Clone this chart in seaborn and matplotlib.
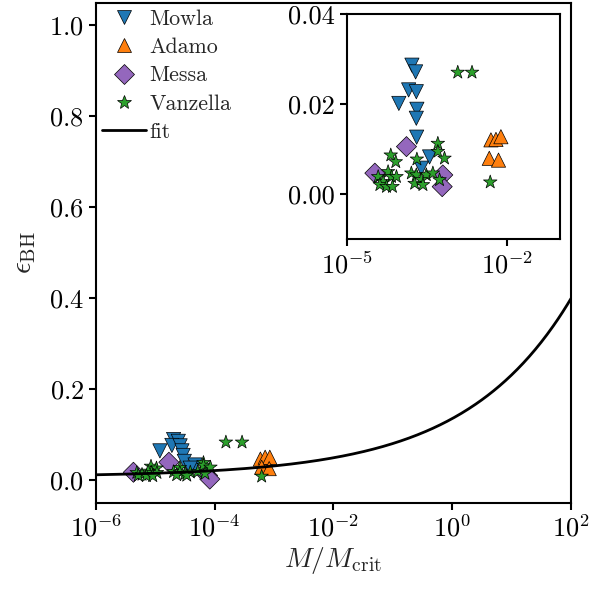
import numpy as np
import pandas as pd
import matplotlib
matplotlib.use("Agg")
import matplotlib.pyplot as plt
from matplotlib.lines import Line2D
import seaborn as sns

# ---- data: main panel -------------------------------------------------
mowla_M = [2.04e-5, 2.45e-5, 1.91e-5, 2.63e-5, 1.20e-5, 2.82e-5, 2.95e-5, 3.09e-5, 4.68e-5, 3.89e-5]
mowla_eps = [0.090, 0.086, 0.077, 0.076, 0.065, 0.065, 0.055, 0.042, 0.034, 0.027]

adamo_M = [5.9e-4, 7.1e-4, 8.5e-4, 6.2e-4, 8.3e-4]
adamo_eps = [0.047, 0.051, 0.051, 0.029, 0.026]

messa_M = [4.3e-6, 1.7e-5, 7.6e-5, 8.3e-5]
messa_eps = [0.018, 0.040, 0.011, 0.003]

vanzella_M = [1.55e-4, 2.9e-4, 6.5e-5, 6.5e-5, 8.5e-5, 8.5e-6, 1.05e-5, 2.6e-5, 6.2e-4,
              7.6e-6, 4.9e-6, 8.7e-6, 1.07e-5, 6.0e-6, 5.2e-6, 7.1e-6, 9.1e-6,
              2.04e-5, 2.6e-5, 3.9e-5, 5.2e-5, 3.2e-5, 2.3e-5, 3.4e-5, 6.9e-5]
vanzella_eps = [0.084, 0.084, 0.039, 0.033, 0.029, 0.031, 0.027, 0.028, 0.009,
                0.020, 0.017, 0.017, 0.017, 0.013, 0.011, 0.010, 0.010,
                0.019, 0.018, 0.018, 0.019, 0.015, 0.012, 0.011, 0.015]

# ---- data: inset -------------------------------------------------------
mowla_M_in = [1.67e-4, 1.96e-4, 1.45e-4, 2.02e-4, 9.5e-5, 2.07e-4, 2.02e-4, 2.05e-4, 3.58e-4, 2.51e-4]
mowla_eps_in = [0.0287, 0.0272, 0.0232, 0.0228, 0.0202, 0.0189, 0.0169, 0.0127, 0.0083, 0.0058]

adamo_M_in = [5.07e-3, 6.30e-3, 7.80e-3, 4.72e-3, 7.03e-3]
adamo_eps_in = [0.0121, 0.0122, 0.0128, 0.0080, 0.0076]

messa_M_in = [3.37e-5, 1.32e-4, 6.34e-4, 6.18e-4]
messa_eps_in = [0.0047, 0.0106, 0.0043, 0.0017]

vanzella_M_in = [1.21e-3, 2.24e-3, 5.12e-4, 5.12e-4, 6.82e-4, 6.70e-5, 8.32e-5, 2.07e-4, 4.92e-3,
                 5.97e-5, 3.89e-5, 6.92e-5, 8.57e-5, 4.82e-5, 4.18e-5, 5.57e-5, 7.21e-5,
                 1.63e-4, 2.02e-4, 3.11e-4, 4.13e-4, 2.51e-4, 1.88e-4, 2.69e-4, 5.51e-4]
vanzella_eps_in = [0.0271, 0.0271, 0.0113, 0.0095, 0.0080, 0.0087, 0.0072, 0.0078, 0.0027,
                   0.0050, 0.0039, 0.0039, 0.0039, 0.0028, 0.0021, 0.0017, 0.0017,
                   0.0047, 0.0043, 0.0043, 0.0047, 0.0032, 0.0024, 0.0021, 0.0032]

# fit: eps = A * (M/Mcrit)**B + C
fit_A, fit_B, fit_C = 0.128, 0.243, 0.008

samples = ["Mowla", "Adamo", "Messa", "Vanzella"]
colors = {"Mowla": "#1f77b4", "Adamo": "#ff7f0e", "Messa": "#9467bd", "Vanzella": "#2ca02c"}
markers = {"Mowla": "v", "Adamo": "^", "Messa": "D", "Vanzella": "*"}


def build_frame(sets):
    rows = []
    for name, (m, e) in zip(samples, sets):
        for mi, ei in zip(m, e):
            rows.append({"M": mi, "eps": ei, "sample": name})
    return pd.DataFrame(rows)


main_df = build_frame([(mowla_M, mowla_eps), (adamo_M, adamo_eps),
                       (messa_M, messa_eps), (vanzella_M, vanzella_eps)])
inset_df = build_frame([(mowla_M_in, mowla_eps_in), (adamo_M_in, adamo_eps_in),
                        (messa_M_in, messa_eps_in), (vanzella_M_in, vanzella_eps_in)])

sns.set_style("ticks")
plt.rcParams.update({
    "font.family": "serif",
    "font.serif": ["cmr10", "DejaVu Serif"],
    "mathtext.fontset": "cm",
    "axes.unicode_minus": False,
    "axes.formatter.use_mathtext": True,
    "font.size": 19,
    "xtick.labelsize": 19,
    "ytick.labelsize": 19,
    "axes.linewidth": 1.5,
    "xtick.major.width": 1.5,
    "ytick.major.width": 1.5,
    "xtick.major.size": 5,
    "ytick.major.size": 5,
    "xtick.color": "black",
    "ytick.color": "black",
    "axes.edgecolor": "black",
})

fig = plt.figure(figsize=(6.14, 5.92), dpi=100)
ax = fig.add_axes([0.156, 0.150, 0.774, 0.8454])

sns.scatterplot(data=main_df, x="M", y="eps", hue="sample", style="sample",
                hue_order=samples, style_order=samples, palette=colors, markers=markers,
                s=105, edgecolor="black", linewidth=0.5, legend=False, ax=ax, zorder=2)

Mgrid = np.logspace(-6, 2, 400)
fit_df = pd.DataFrame({"M": Mgrid, "eps": fit_A * Mgrid ** fit_B + fit_C})
sns.lineplot(data=fit_df, x="M", y="eps", color="black", linewidth=2, ax=ax, zorder=3)

ax.set_xscale("log")
ax.set_xlim(1e-6, 1e2)
ax.set_ylim(-0.05, 1.05)
ax.set_xticks([1e-6, 1e-4, 1e-2, 1e0, 1e2])
ax.xaxis.set_minor_locator(matplotlib.ticker.NullLocator())
ax.set_yticks([0.0, 0.2, 0.4, 0.6, 0.8, 1.0])
ax.set_xlabel(r"$M/M_{\rm crit}$", fontsize=20, labelpad=2)
ax.set_ylabel(r"$\epsilon_{\rm BH}$", fontsize=21, labelpad=8)

handles = [Line2D([], [], linestyle="none", marker=markers[n], markersize=10,
                  markerfacecolor=colors[n], markeredgecolor="black", markeredgewidth=0.5)
           for n in samples]
handles.append(Line2D([], [], color="black", linewidth=2))
ax.legend(handles, samples + ["fit"], loc="upper left", frameon=False, fontsize=15.8,
          handlelength=2.0, handletextpad=0.15, labelspacing=0.4,
          borderaxespad=0.0, borderpad=0.3)

# inset zoom on the observed sample
axin = fig.add_axes([0.5647, 0.5958, 0.3473, 0.38])
sns.scatterplot(data=inset_df, x="M", y="eps", hue="sample", style="sample",
                hue_order=samples, style_order=samples, palette=colors, markers=markers,
                s=105, edgecolor="black", linewidth=0.5, legend=False, ax=axin)
axin.set_xscale("log")
axin.set_xlim(1e-5, 1e-1)
axin.set_ylim(-0.01, 0.04)
axin.set_xticks([1e-5, 1e-2])
axin.xaxis.set_minor_locator(matplotlib.ticker.NullLocator())
axin.set_yticks([0.0, 0.02, 0.04])
axin.yaxis.set_major_formatter(matplotlib.ticker.FormatStrFormatter("%.2f"))
axin.set_xlabel("")
axin.set_ylabel("")

fig.savefig("out.png", dpi=100)
